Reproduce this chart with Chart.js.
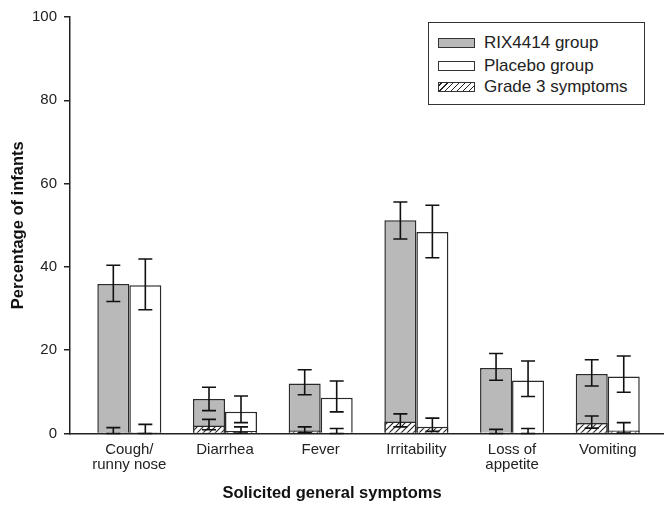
<!DOCTYPE html>
<html>
<head>
<meta charset="utf-8">
<script src="https://cdn.jsdelivr.net/npm/chart.js@4.4.1/dist/chart.umd.min.js"></script>
<style>
  html, body { margin: 0; padding: 0; background: #fff; }
  #wrap { position: relative; width: 664px; height: 505px; }
  #legend {
    position: absolute; left: 428px; top: 22px; width: 215px; height: 81px;
    border: 1.5px solid #333; background: #fff;
    font-family: 'Liberation Sans', Arial, sans-serif; font-size: 17px; color: #222;
  }
  .item { position: absolute; left: 9px; height: 18px; line-height: 18px; white-space: nowrap; }
  .swatch { display: inline-block; width: 35px; height: 8px; border: 1px solid #333; vertical-align: middle; margin-right: 9px; margin-top: -2px; }
</style>
</head>
<body>
<div id="wrap">
  <canvas id="chart" width="664" height="505"></canvas>
  <div id="legend"></div>
</div>
<script>
const categories = [['Cough/', 'runny nose'], 'Diarrhea', 'Fever', 'Irritability', ['Loss of', 'appetite'], 'Vomiting'];
const seriesNames = ['RIX4414 group', 'Placebo group', 'Grade 3 symptoms'];
const yTicks = [0, 20, 40, 60, 80, 100];

const rix = [35.9, 8.3, 12.0, 51.2, 15.7, 14.3];
const rixLow = [31.7, 5.5, 9.3, 46.7, 12.8, 11.4];
const rixHigh = [40.4, 11.1, 15.3, 55.6, 19.2, 17.7];

const placebo = [35.6, 5.2, 8.6, 48.4, 12.7, 13.7];
const placeboLow = [29.7, 2.6, 5.2, 42.2, 8.9, 9.9];
const placeboHigh = [41.9, 9.0, 12.6, 54.8, 17.4, 18.6];

const rixG3 = [0.3, 1.9, 0.7, 2.9, 0.1, 2.5];
const rixG3Low = [0, 0.9, 0.2, 1.6, 0, 1.3];
const rixG3High = [1.4, 3.4, 1.6, 4.7, 1.0, 4.2];

const placeboG3 = [0.3, 0.6, 0.2, 1.6, 0.1, 0.7];
const placeboG3Low = [0, 0.1, 0, 0.5, 0, 0.1];
const placeboG3High = [2.2, 1.6, 1.2, 3.7, 1.2, 2.6];

const FONT = "'Liberation Sans', Arial, sans-serif";
const GREY = '#b9b9b9';

// diagonal hatch for the grade 3 part
function makeHatch() {
  const c = document.createElement('canvas');
  c.width = 6; c.height = 6;
  const g = c.getContext('2d');
  g.fillStyle = '#fff';
  g.fillRect(0, 0, 6, 6);
  g.strokeStyle = '#222';
  g.lineWidth = 1.1;
  g.beginPath();
  g.moveTo(0, 6); g.lineTo(6, 0);
  g.moveTo(-1, 1); g.lineTo(1, -1);
  g.moveTo(5, 7); g.lineTo(7, 5);
  g.stroke();
  return g.createPattern(c, 'repeat');
}
const hatch = makeHatch();

const points = (arr) => arr.map((v, i) => ({ x: i, y: v }));

const errorBars = {
  id: 'errorBars',
  afterDatasetsDraw(chart) {
    const { ctx } = chart;
    const y = chart.scales.y;
    const order = [2, 3, 0, 1];
    ctx.save();
    ctx.strokeStyle = '#111';
    ctx.lineWidth = 1.6;
    order.forEach((di) => {
      const ds = chart.data.datasets[di];
      const meta = chart.getDatasetMeta(di);
      meta.data.forEach((el, i) => {
        const x = el.x;
        const lo = y.getPixelForValue(ds.errLow[i]);
        const hi = y.getPixelForValue(ds.errHigh[i]);
        const cap = 7;
        ctx.beginPath();
        ctx.moveTo(x, lo); ctx.lineTo(x, hi);
        ctx.moveTo(x - cap, hi); ctx.lineTo(x + cap, hi);
        ctx.moveTo(x - cap, lo); ctx.lineTo(x + cap, lo);
        ctx.stroke();
      });
    });
    ctx.restore();
  },
};

const barBase = { borderColor: '#2a2a2a', borderWidth: 1.5, categoryPercentage: 0.669, barPercentage: 1.0 };

new Chart(document.getElementById('chart').getContext('2d'), {
  type: 'bar',
  data: {
    datasets: [
      { ...barBase, label: seriesNames[0], stack: 'a', order: 1, data: points(rix), backgroundColor: GREY, errLow: rixLow, errHigh: rixHigh },
      { ...barBase, label: seriesNames[1], stack: 'b', order: 1, data: points(placebo), backgroundColor: '#fff', errLow: placeboLow, errHigh: placeboHigh },
      { ...barBase, label: seriesNames[2], stack: 'a', order: 0, data: points(rixG3), backgroundColor: hatch, errLow: rixG3Low, errHigh: rixG3High },
      { ...barBase, label: seriesNames[2], stack: 'b', order: 0, data: points(placeboG3), backgroundColor: hatch, errLow: placeboG3Low, errHigh: placeboG3High },
    ],
  },
  options: {
    responsive: false,
    animation: false,
    layout: { padding: { top: 17, right: 0, left: 0, bottom: 0 } },
    plugins: {
      legend: { display: false },
      tooltip: { enabled: false },
      title: {
        display: true,
        position: 'bottom',
        text: 'Solicited general symptoms',
        color: '#111',
        font: { family: FONT, size: 16.5, weight: 'bold' },
        padding: { top: 0, bottom: 2 },
      },
    },
    scales: {
      x: {
        type: 'linear',
        offset: false,
        min: -0.62,
        max: 5.588,
        afterFit: (scale) => { scale.height = 49.7; },
        afterBuildTicks: (scale) => { scale.ticks = categories.map((c, i) => ({ value: i })); },
        grid: { display: false, offset: false, drawTicks: false, tickLength: 0 },
        border: { display: true, color: '#222', width: 1.5 },
        ticks: {
          padding: 8,
          color: '#222',
          font: { family: FONT, size: 15, lineHeight: 1.05 },
          callback: (v) => categories[v],
        },
      },
      y: {
        stacked: false,
        min: 0,
        max: 100,
        afterFit: (scale) => { scale.width = 70; },
        afterBuildTicks: (scale) => { scale.ticks = yTicks.map((v) => ({ value: v })); },
        grid: { drawOnChartArea: false, drawTicks: true, tickLength: 6, color: '#222', lineWidth: 1.5 },
        border: { display: true, color: '#222', width: 1.5 },
        ticks: { padding: 7, color: '#222', font: { family: FONT, size: 15 } },
        title: {
          display: true,
          text: 'Percentage of infants',
          color: '#111',
          font: { family: FONT, size: 16.5, weight: 'bold' },
          padding: { top: 9, bottom: 0 },
        },
      },
    },
  },
  plugins: [errorBars],
});

// legend box, one entry per series name
const swatchFill = [GREY, '#fff', 'repeating-linear-gradient(-45deg, #fff 0 3px, #222 3px 4.2px)'];
const rowTops = [11, 34, 55];
document.getElementById('legend').innerHTML = seriesNames.map((name, i) =>
  `<div class="item" style="top:${rowTops[i]}px"><span class="swatch" style="background:${swatchFill[i]}"></span>${name}</div>`
).join('');
</script>
</body>
</html>
